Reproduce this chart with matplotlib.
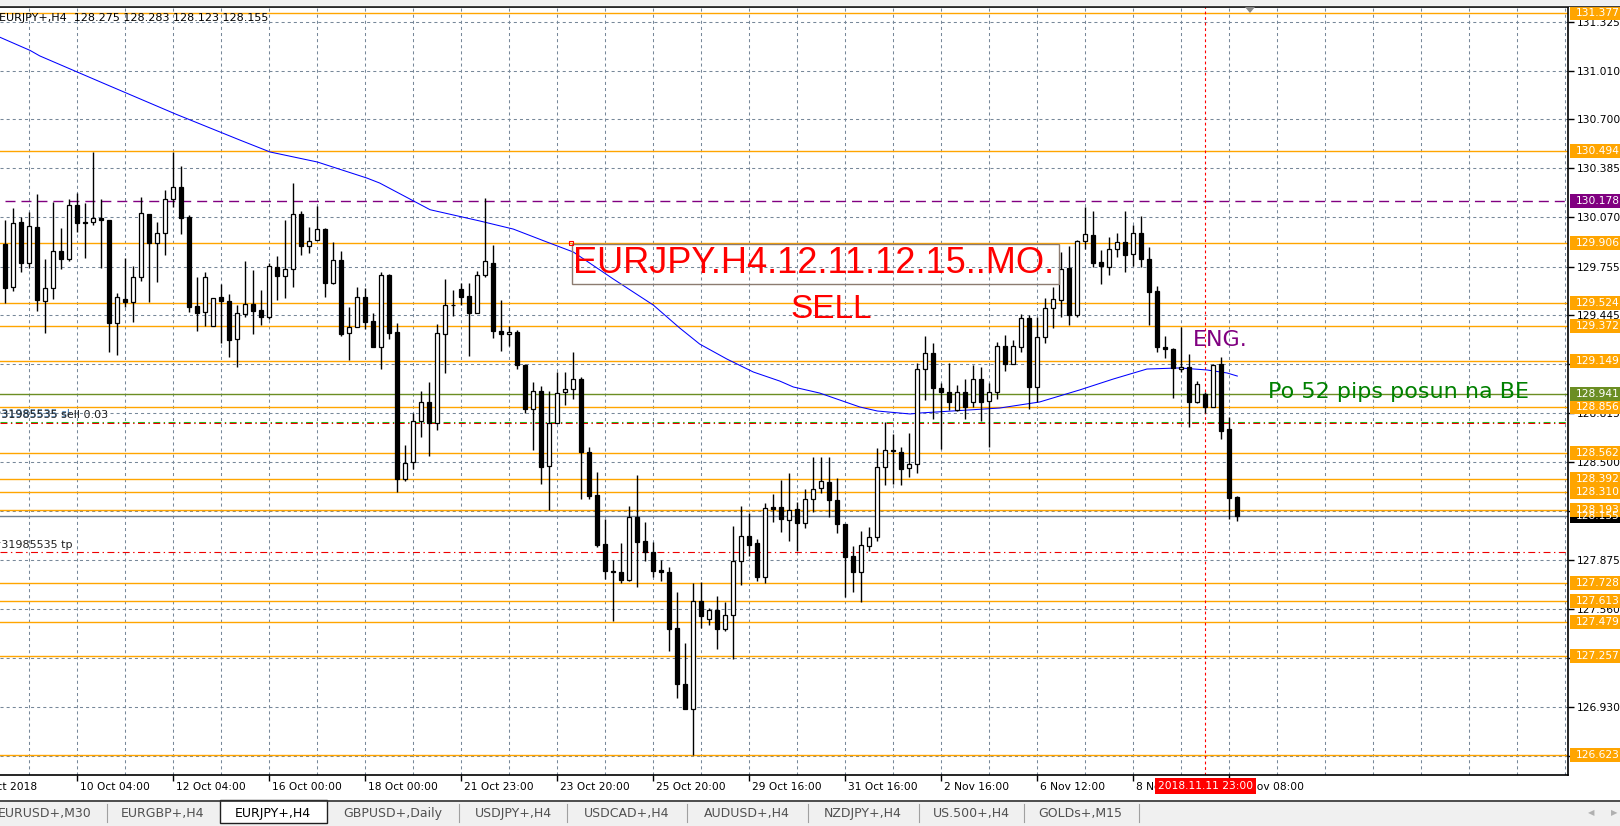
import matplotlib
matplotlib.use("Agg")
import matplotlib.pyplot as plt
import matplotlib.transforms as mtransforms
from matplotlib.patches import Rectangle, Polygon
from matplotlib.lines import Line2D

plt.rcParams['lines.scale_dashes'] = False

# ---- candles EURJPY+ H4 (one row per bar: open, high, low, close) ----
opens = [129.899, 129.622, 130.040, 129.776, 130.006, 129.536, 129.615, 129.855, 129.801, 130.147,
         130.040, 130.038, 130.064, 130.053, 129.391, 129.549, 129.530, 129.686, 130.092, 129.908,
         129.968, 130.186, 130.263, 130.075, 129.502, 129.461, 129.376, 129.558, 129.536, 129.288,
         129.449, 129.513, 129.476, 129.429, 129.754, 129.697, 129.737, 130.092, 129.889, 129.923,
         129.993, 129.652, 129.797, 129.327, 129.370, 129.558, 129.406, 129.241, 129.701, 129.333,
         128.395, 128.500, 128.762, 128.888, 128.750, 129.322, 129.506, 129.609, 129.567, 129.457,
         129.702, 129.780, 129.341, 129.322, 129.334, 129.123, 128.843, 128.956, 128.476, 128.750,
         128.949, 128.973, 129.035, 128.569, 128.289, 127.975, 127.803, 127.796, 127.749, 128.152,
         127.995, 127.926, 127.808, 127.796, 127.438, 127.082, 126.918, 127.612, 127.494, 127.556,
         127.433, 127.524, 127.870, 128.029, 127.985, 127.763, 128.212, 128.212, 128.130, 128.199,
         128.109, 128.263, 128.333, 128.372, 128.259, 128.103, 127.900, 127.795, 127.964, 128.024,
         128.468, 128.579, 128.568, 128.462, 128.487, 129.096, 129.199, 128.974, 128.949, 128.835,
         128.949, 128.887, 129.032, 128.893, 128.949, 129.246, 129.128, 129.237, 129.423, 128.981,
         129.301, 129.487, 129.541, 129.743, 129.442, 129.921, 129.957, 129.784, 129.750, 129.865,
         129.914, 129.835, 129.968, 129.803, 129.598, 129.237, 129.224, 129.098, 129.113, 128.889,
         128.938, 128.857, 129.130, 128.711, 128.275]
highs = [130.053, 130.128, 130.075, 130.107, 130.220, 129.801, 130.169, 130.000, 130.186, 130.224,
         130.160, 130.489, 130.190, 130.053, 129.583, 129.808, 129.758, 130.203, 130.092, 130.043,
         130.246, 130.489, 130.399, 130.085, 129.686, 129.718, 129.551, 129.641, 129.577, 129.509,
         129.791, 129.733, 129.605, 129.776, 129.823, 130.053, 130.288, 130.111, 130.006, 130.143,
         130.000, 129.910, 129.855, 129.498, 129.626, 129.615, 129.455, 129.718, 129.705, 129.393,
         128.610, 128.819, 128.956, 129.015, 129.388, 129.672, 129.604, 129.648, 129.648, 129.726,
         130.192, 129.893, 129.538, 129.376, 129.346, 129.133, 129.015, 128.991, 128.956, 129.077,
         129.077, 129.204, 129.045, 128.598, 128.439, 128.137, 127.875, 127.985, 128.223, 128.422,
         128.120, 127.992, 127.875, 127.826, 127.671, 127.342, 127.728, 127.732, 127.568, 127.646,
         127.605, 128.095, 128.223, 128.174, 128.010, 128.237, 128.297, 128.387, 128.430, 128.248,
         128.327, 128.536, 128.536, 128.532, 128.397, 128.103, 127.964, 128.062, 128.083, 128.590,
         128.761, 128.679, 128.600, 128.686, 129.135, 129.310, 129.263, 129.011, 129.135, 128.996,
         129.032, 129.124, 129.113, 129.011, 129.273, 129.316, 129.284, 129.451, 129.444, 129.429,
         129.551, 129.626, 129.848, 129.887, 129.925, 130.139, 130.113, 129.861, 129.946, 129.972,
         130.113, 130.021, 130.081, 129.878, 129.630, 129.310, 129.231, 129.365, 129.194, 129.023,
         128.953, 129.130, 129.173, 128.793, 128.283]
lows = [129.519, 129.600, 129.722, 129.748, 129.472, 129.327, 129.547, 129.737, 129.793, 129.974,
        129.812, 130.023, 129.748, 129.209, 129.190, 129.498, 129.402, 129.664, 129.528, 129.658,
        129.829, 130.139, 129.961, 129.466, 129.344, 129.376, 129.376, 129.267, 129.177, 129.113,
        129.434, 129.323, 129.380, 129.421, 129.541, 129.556, 129.626, 129.829, 129.844, 129.923,
        129.562, 129.643, 129.310, 129.156, 129.365, 129.355, 129.241, 129.100, 129.293, 128.312,
        128.382, 128.456, 128.664, 128.542, 128.709, 129.072, 129.437, 129.506, 129.182, 129.457,
        129.690, 129.295, 129.211, 129.248, 129.101, 128.819, 128.581, 128.358, 128.194, 128.750,
        128.868, 128.905, 128.267, 128.267, 127.960, 127.752, 127.482, 127.728, 127.740, 127.703,
        127.870, 127.764, 127.740, 127.291, 126.992, 126.918, 126.624, 127.440, 127.458, 127.306,
        127.421, 127.237, 127.715, 127.899, 127.740, 127.729, 128.120, 128.056, 127.998, 127.934,
        128.077, 128.184, 128.301, 128.152, 128.045, 127.639, 127.671, 127.603, 127.934, 127.998,
        128.355, 128.361, 128.355, 128.404, 128.430, 128.900, 128.776, 128.583, 128.835, 128.831,
        128.776, 128.857, 128.767, 128.596, 128.904, 129.088, 129.128, 129.209, 128.840, 128.889,
        129.263, 129.359, 129.429, 129.378, 129.434, 129.865, 129.750, 129.641, 129.701, 129.818,
        129.718, 129.760, 129.754, 129.380, 129.209, 129.167, 128.910, 129.081, 128.729, 128.878,
        128.818, 128.857, 128.649, 128.135, 128.123]
closes = [129.620, 130.032, 129.776, 130.013, 129.541, 129.615, 129.852, 129.801, 130.147, 130.032,
          130.032, 130.064, 130.051, 129.391, 129.558, 129.528, 129.686, 130.096, 129.908, 129.968,
          130.186, 130.263, 130.068, 129.498, 129.459, 129.686, 129.551, 129.536, 129.284, 129.455,
          129.513, 129.472, 129.429, 129.758, 129.697, 129.737, 130.090, 129.889, 129.917, 129.993,
          129.652, 129.797, 129.325, 129.365, 129.558, 129.402, 129.241, 129.701, 129.331, 128.393,
          128.495, 128.762, 128.888, 128.750, 129.327, 129.506, 129.506, 129.562, 129.457, 129.702,
          129.788, 129.344, 129.322, 129.334, 129.121, 128.839, 128.956, 128.468, 128.750, 128.942,
          128.973, 129.032, 128.566, 128.287, 127.973, 127.801, 127.794, 127.747, 128.152, 127.992,
          127.924, 127.806, 127.794, 127.433, 127.082, 126.918, 127.612, 127.512, 127.556, 127.433,
          127.524, 127.870, 128.029, 127.973, 127.764, 128.205, 128.201, 128.135, 128.194, 128.109,
          128.263, 128.329, 128.380, 128.259, 128.103, 127.895, 127.795, 127.968, 128.024, 128.468,
          128.579, 128.575, 128.455, 128.487, 129.096, 129.199, 128.974, 128.949, 128.885, 128.949,
          128.857, 129.032, 128.887, 128.949, 129.246, 129.128, 129.246, 129.423, 128.981, 129.301,
          129.487, 129.545, 129.741, 129.442, 129.921, 129.961, 129.780, 129.758, 129.865, 129.914,
          129.827, 129.968, 129.801, 129.594, 129.237, 129.224, 129.107, 129.113, 128.889, 129.000,
          128.857, 129.124, 128.703, 128.273, 128.155]

# moving average (bar position, price)
ma_bar = [-0.7, 3.1, 4.3, 12.2, 21.3, 29.3, 33.1, 39.0, 45.2, 46.8, 53.1, 59.3, 63.5, 67.7, 71.0,
          76.0, 81.0, 84.3, 86.8, 90.2, 93.5, 96.8, 98.5, 101.8, 106.8, 109.0, 113.1, 114.3, 124.3,
          129.3, 134.3, 138.5, 142.7, 146.8, 150.2, 152.7, 154.0]
ma_val = [131.225, 131.140, 131.105, 130.931, 130.732, 130.566, 130.489, 130.425, 130.322, 130.290,
          130.119, 130.047, 129.995, 129.912, 129.848, 129.675, 129.508, 129.361, 129.258, 129.162,
          129.079, 129.021, 128.983, 128.944, 128.855, 128.829, 128.810, 128.816, 128.848, 128.887,
          128.964, 129.034, 129.098, 129.105, 129.092, 129.073, 129.053]

# horizontal levels
orange_levels = [131.377, 130.494, 129.906, 129.524, 129.372, 129.149, 128.856, 128.562,
                 128.392, 128.310, 128.193, 127.728, 127.613, 127.479, 127.257, 126.623]
purple_level = 130.178
olive_level = 128.941
bid_price = 128.155
order_open = 128.761
order_sl = 128.749
order_tp = 127.927

grid_prices = [131.325, 131.010, 130.700, 130.385, 130.070, 129.755, 129.445, 129.130, 128.815,
               128.500, 128.185, 127.875, 127.560, 127.245, 126.930, 126.615]

time_bars = [-3, 9, 21, 33, 45, 57, 69, 81, 93, 105, 117, 129, 141, 153]
time_labels = ['8 Oct 2018', '10 Oct 04:00', '12 Oct 04:00', '16 Oct 00:00', '18 Oct 00:00',
               '21 Oct 23:00', '23 Oct 20:00', '25 Oct 20:00', '29 Oct 16:00', '31 Oct 16:00',
               '2 Nov 16:00', '6 Nov 12:00', '8 Nov 12:00', '12 Nov 08:00']
vline_bar = 150
vline_label = '2018.11.11 23:00'

tabs = ['EURUSD+,M30', 'EURGBP+,H4', 'EURJPY+,H4', 'GBPUSD+,Daily', 'USDJPY+,H4',
        'USDCAD+,H4', 'AUDUSD+,H4', 'NZDJPY+,H4', 'US.500+,H4', 'GOLDs+,M15']
tab_centers = [45, 163, 273, 393, 513, 627, 747, 863, 971, 1080]
tab_seps = [107, 459, 567, 687, 808, 919, 1024, 1139]

W, H = 1620, 826
def fx(x):
    return x / W
def fy(y):
    return 1 - y / H

fig = plt.figure(figsize=(W / 100, H / 100), dpi=100)
fig.patch.set_facecolor('white')
ax = fig.add_axes([0, fy(775), fx(1568), (775 - 7) / H])

ORANGE = '#FFA500'
GRID = '#778899'
DASHDOT = (0, (5, 2.5, 1, 2.5))

# grid
for b in range(3, 196, 6):
    ax.axvline(b, color=GRID, lw=0.75, ls=(0, (2.2, 2.2)), zorder=1)
for p in grid_prices:
    ax.axhline(p, color=GRID, lw=0.75, ls=(0, (2.2, 2.2)), zorder=1)

# levels
for p in orange_levels:
    ax.axhline(p, color=ORANGE, lw=1.0, zorder=2)
ax.axhline(purple_level, xmin=0.0035, color='#800080', lw=1.0, ls=(0, (7.2, 4.3)), zorder=2)
ax.axhline(olive_level, color='#6B8E23', lw=1.0, zorder=2)
ax.axhline(bid_price, color='#708090', lw=1.0, zorder=2)
ax.axhline(order_open, color='#22BB22', lw=0.75, ls=DASHDOT, zorder=2)
ax.axhline(order_sl, color='#EE0000', lw=0.75, ls=DASHDOT, zorder=2)
ax.axhline(order_tp, color='#EE0000', lw=0.8, ls=DASHDOT, zorder=2)
ax.axvline(vline_bar, color='#FF0000', lw=0.8, ls=(0, (2, 2)), zorder=2)

# moving average
ax.plot(ma_bar, ma_val, color='#0000FF', lw=0.75, zorder=3)

# candles
n = len(opens)
xs = list(range(n))
ax.vlines(xs, lows, highs, color='black', lw=1.0, zorder=4)
for i in range(n):
    o, c = opens[i], closes[i]
    lo, hi = min(o, c), max(o, c)
    fc = 'white' if c >= o else 'black'
    ax.add_patch(Rectangle((i - 0.26, lo), 0.52, max(hi - lo, 0.0005), facecolor=fc,
                           edgecolor='black', lw=0.9, zorder=5))

# text objects on the chart
ax.add_patch(Rectangle((70.84, 129.643), 60.86, 0.256, fill=False, edgecolor='#8C7B70',
                       lw=1.0, zorder=6))
ax.plot([70.7], [129.906], marker='s', ms=3, mfc='none', mec='red', mew=0.8, zorder=7)
ax.text(71.0, 129.772, 'EURJPY.H4.12.11.12.15..MO.', color='#FF0000', fontsize=26,
        family='Liberation Sans', va='center', ha='left', zorder=7)
ax.text(103.3, 129.478, 'SELL', color='#FF0000', fontsize=24, family='Liberation Sans',
        va='center', ha='center', zorder=7)
ax.text(148.5, 129.284, 'ENG.', color='#800080', fontsize=16, va='center', ha='left', zorder=7)
ax.text(157.8, 128.953, 'Po 52 pips posun na BE', color='#008000', fontsize=16,
        va='center', ha='left', zorder=7)

# order labels at left edge
ax.text(-1.66, 128.808, '#31985535 sl', color='#4A7FB0', fontsize=8, va='center',
        ha='left', zorder=7, clip_on=True)
ax.text(-1.66, 128.805, '#31985535 sell 0.03', color='#222222', fontsize=8, va='center',
        ha='left', zorder=7, clip_on=True)
ax.text(-1.66, 127.967, '#31985535 tp', color='#222222', fontsize=8, va='center',
        ha='left', zorder=7, clip_on=True)

# axes frame and ticks
ax.spines['left'].set_visible(False)
for side in ['right', 'bottom', 'top']:
    ax.spines[side].set_color('black')
    ax.spines[side].set_linewidth(1.2)
ax.yaxis.tick_right()
ax.set_yticks(grid_prices)
ax.set_yticklabels(['%.3f' % p for p in grid_prices])
ax.tick_params(axis='y', direction='out', length=4, width=1, labelsize=7.7, pad=2.5,
               colors='black')
ax.set_xticks(time_bars)
ax.tick_params(axis='x', direction='out', length=4, width=1, labelbottom=False)
# limits after the ticks, so the off-screen first tick does not widen the view
ax.set_xlim(-0.6625, 195.3375)
ax.set_ylim(126.4961, 131.4183)

xt = mtransforms.blended_transform_factory(ax.transData, fig.transFigure)
for b, lab in zip(time_bars, time_labels):
    shift = -0.45 if b < 0 else 0.3
    ax.text(b + shift, fy(787), lab, transform=xt, fontsize=7.7, va='center', ha='left',
            clip_on=False, zorder=8)
ax.text(vline_bar, fy(786), vline_label, transform=xt, fontsize=7.7, color='white',
        va='center', ha='center', clip_on=False, zorder=9,
        bbox=dict(boxstyle='square,pad=0.25', fc='#FF0000', ec='none'))

# price labels on the right axis
yt = mtransforms.blended_transform_factory(fig.transFigure, ax.transData)
hbox = 14 / 156.03
def price_label(p, txt, bg):
    ax.add_patch(Rectangle((fx(1570), p - hbox / 2), fx(52), hbox, transform=yt,
                           facecolor=bg, edgecolor='none', clip_on=False, zorder=10))
    ax.text(fx(1576), p, txt, transform=yt, color='white', fontsize=7.7, va='center',
            ha='left', clip_on=False, zorder=11)

price_label(bid_price, '%.3f' % bid_price, 'black')
for p in orange_levels:
    price_label(p, '%.3f' % p, ORANGE)
price_label(purple_level, '%.3f' % purple_level, '#800080')
price_label(olive_level, '%.3f' % olive_level, '#6B8E23')

# header
fig.text(fx(-1), fy(18), 'EURJPY+,H4  128.275 128.283 128.123 128.155', fontsize=8,
         va='center', ha='left')

# top strip of the window
fig.add_artist(Rectangle((0, fy(5)), 1, 5 / H, transform=fig.transFigure,
                         facecolor='#F0F0F0', edgecolor='none'))
fig.add_artist(Line2D([0, 1], [fy(5.5), fy(5.5)], transform=fig.transFigure,
                      color='#404040', lw=0.8))
fig.add_artist(Polygon([[fx(1245), fy(7)], [fx(1255), fy(7)], [fx(1250), fy(13)]],
                       closed=True, transform=fig.transFigure, facecolor='#8A8A8A',
                       edgecolor='none'))

# tab bar
fig.add_artist(Rectangle((0, 0), 1, fy(800), transform=fig.transFigure,
                         facecolor='#F0F0F0', edgecolor='none'))
fig.add_artist(Line2D([0, 1], [fy(800.5), fy(800.5)], transform=fig.transFigure,
                      color='#303030', lw=1.2))
fig.add_artist(Rectangle((fx(220), fy(823)), fx(107), 23 / H, transform=fig.transFigure,
                         facecolor='white', edgecolor='#202020', lw=1.0))
for s in tab_seps:
    fig.add_artist(Line2D([fx(s), fx(s)], [fy(804), fy(822)], transform=fig.transFigure,
                          color='#A0A0A0', lw=0.8))
for name, cx in zip(tabs, tab_centers):
    active = name == 'EURJPY+,H4'
    fig.text(fx(cx), fy(813), name, fontsize=9, ha='center', va='center',
             color='black' if active else '#505050')
fig.text(fx(1591), fy(813), '\u25C0', fontsize=6, ha='center', va='center', color='#B0B0B0')
fig.text(fx(1614), fy(813), '\u25B6', fontsize=6, ha='center', va='center', color='#B0B0B0')

fig.savefig('out.png', dpi=100)
